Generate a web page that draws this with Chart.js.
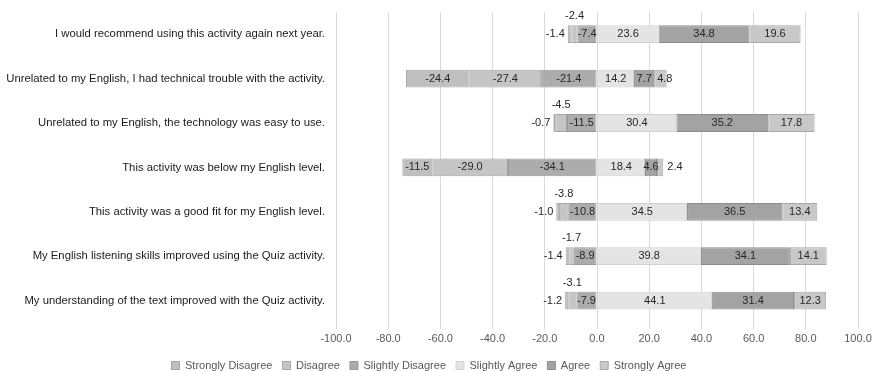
<!DOCTYPE html>
<html>
<head>
<meta charset="utf-8">
<title>Quiz activity survey</title>
<script src="https://cdn.jsdelivr.net/npm/chart.js@4.4.1/dist/chart.umd.min.js"></script>
<style>
  html, body { margin: 0; padding: 0; background: #fff; }
  #wrap { width: 880px; height: 371px; position: relative; }
</style>
</head>
<body>
<div id="wrap"><canvas id="chart"></canvas></div>
<script>
// survey statements, top row first
const statements = [
  "I would recommend using this activity again next year.",
  "Unrelated to my English, I had technical trouble with the activity.",
  "Unrelated to my English, the technology was easy to use.",
  "This activity was below my English level.",
  "This activity was a good fit for my English level.",
  "My English listening skills improved using the Quiz activity.",
  "My understanding of the text improved with the Quiz activity."
];

// percentages per response, disagree side kept negative
const stronglyDisagree = [-1.4, -24.4, -0.7, -11.5, -1.0, -1.4, -1.2];
const disagree         = [-2.4, -27.4, -4.5, -29.0, -3.8, -1.7, -3.1];
const slightlyDisagree = [-7.4, -21.4, -11.5, -34.1, -10.8, -8.9, -7.9];
const slightlyAgree    = [23.6, 14.2, 30.4, 18.4, 34.5, 39.8, 44.1];
const agree            = [34.8, 7.7, 35.2, 4.6, 36.5, 34.1, 31.4];
const stronglyAgree    = [19.6, 4.8, 17.8, 2.4, 13.4, 14.1, 12.3];

const xTicks = [-100, -80, -60, -40, -20, 0, 20, 40, 60, 80, 100];

const FONT = "'Liberation Sans', Arial, sans-serif";

// value labels: centred in the segment, or pushed outside when the segment is tiny
const segmentLabels = {
  id: 'segmentLabels',
  afterDatasetsDraw(chart) {
    const ctx = chart.ctx;
    ctx.save();
    ctx.font = '11px ' + FONT;
    ctx.fillStyle = '#262626';
    ctx.textBaseline = 'middle';
    chart.data.datasets.forEach((ds, di) => {
      const meta = chart.getDatasetMeta(di);
      if (meta.hidden) return;
      meta.data.forEach((bar, i) => {
        const v = ds.data[i];
        const txt = v.toFixed(1);
        const left = Math.min(bar.x, bar.base);
        const right = Math.max(bar.x, bar.base);
        const mid = (left + right) / 2;
        const small = Math.abs(v) < ds.smallBelow;
        if (small && ds.smallSpot === 'left') {
          ctx.textAlign = 'right';
          ctx.fillText(txt, left - 3, bar.y);
        } else if (small && ds.smallSpot === 'above') {
          ctx.textAlign = 'center';
          ctx.fillText(txt, mid, bar.y - bar.height / 2 - 9);
        } else if (small && ds.smallSpot === 'right') {
          // very thin end pieces get their label past the bar end
          ctx.textAlign = 'left';
          ctx.fillText(txt, right - left < 8 ? right + 4 : left + 3, bar.y);
        } else {
          ctx.textAlign = 'center';
          ctx.fillText(txt, mid, bar.y);
        }
      });
    });
    ctx.restore();
  }
};

// order controls stacking: slightly disagree sits next to zero on the left
new Chart(document.getElementById('chart'), {
  type: 'bar',
  data: {
    labels: statements,
    datasets: [
      { label: 'Strongly Disagree', data: stronglyDisagree, order: 2,
        backgroundColor: '#bfbfbf', borderColor: '#a5a5a5', smallSpot: 'left', smallBelow: 5 },
      { label: 'Disagree', data: disagree, order: 1,
        backgroundColor: '#c5c5c5', borderColor: '#a5a5a5', smallSpot: 'above', smallBelow: 5 },
      { label: 'Slightly Disagree', data: slightlyDisagree, order: 0,
        backgroundColor: '#acacac', borderColor: '#999999', smallSpot: null, smallBelow: 0 },
      { label: 'Slightly Agree', data: slightlyAgree, order: 3,
        backgroundColor: '#e4e4e4', borderColor: '#d2d2d2', smallSpot: null, smallBelow: 0 },
      { label: 'Agree', data: agree, order: 4,
        backgroundColor: '#a3a3a3', borderColor: '#8c8c8c', smallSpot: null, smallBelow: 0 },
      { label: 'Strongly Agree', data: stronglyAgree, order: 5,
        backgroundColor: '#c8c8c8', borderColor: '#a8a8a8', smallSpot: 'right', smallBelow: 6 }
    ]
  },
  options: {
    indexAxis: 'y',
    responsive: true,
    maintainAspectRatio: false,
    animation: false,
    layout: { padding: { top: 12, right: 22, left: 0, bottom: 0 } },
    datasets: {
      bar: { barPercentage: 0.4, categoryPercentage: 1, borderWidth: 1, borderSkipped: false }
    },
    scales: {
      x: {
        stacked: true,
        min: -100,
        max: 100,
        afterBuildTicks(axis) {
          axis.ticks = xTicks.map(v => ({ value: v }));
        },
        grid: { color: '#d9d9d9', tickLength: 6 },
        border: { display: false },
        ticks: {
          color: '#595959',
          font: { family: FONT, size: 11 },
          padding: 4,
          maxRotation: 0,
          callback: v => Number(v).toFixed(1)
        }
      },
      y: {
        stacked: true,
        // hidden tick marks still space the labels off the plot
        grid: { display: false, drawTicks: true, tickLength: 11 },
        border: { display: false },
        afterFit(axis) { axis.width = 336; },
        ticks: {
          color: '#1a1a1a',
          font: { family: FONT, size: 11.3 },
          padding: 0
        }
      }
    },
    plugins: {
      legend: {
        position: 'bottom',
        maxHeight: 21,
        labels: {
          boxWidth: 8,
          boxHeight: 8,
          padding: 10,
          color: '#595959',
          font: { family: FONT, size: 11 },
          // keep legend in dataset order, not stacking order
          sort: (a, b) => a.datasetIndex - b.datasetIndex
        }
      },
      tooltip: { enabled: false }
    }
  },
  plugins: [segmentLabels]
});
</script>
</body>
</html>
